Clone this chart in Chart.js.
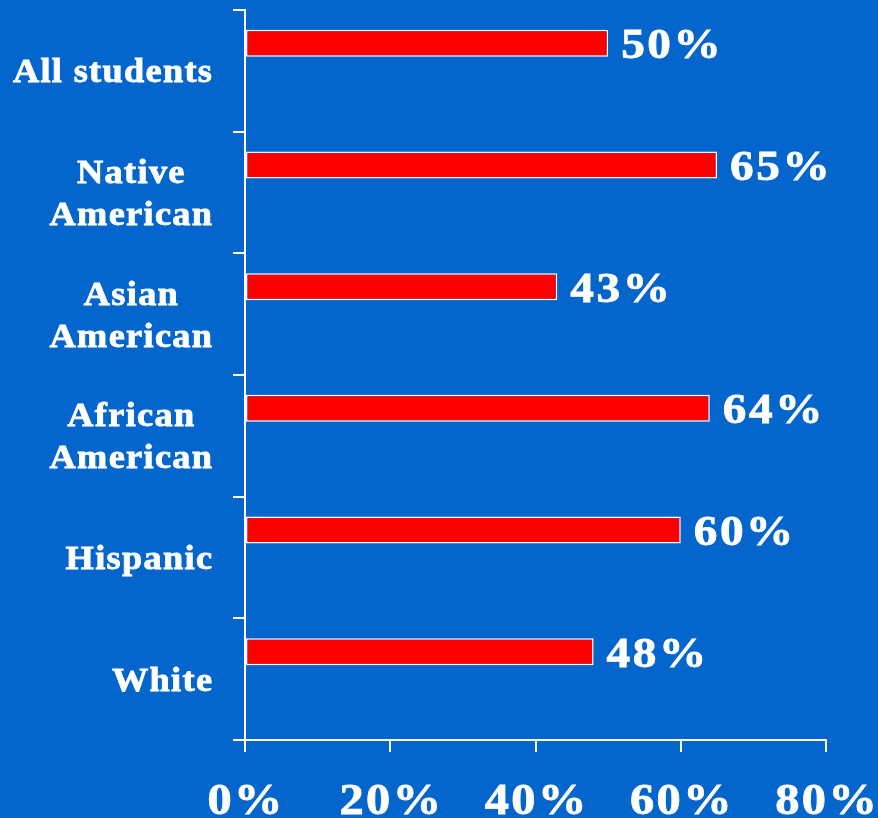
<!DOCTYPE html>
<html>
<head>
<meta charset="utf-8">
<script src="https://cdn.jsdelivr.net/npm/chart.js@4/dist/chart.umd.min.js"></script>
<style>
  html, body { margin: 0; padding: 0; background: #0466cc; }
  canvas { display: block; background: #0466cc; }
</style>
</head>
<body>
<canvas id="myChart" width="878" height="818"></canvas>
<script>
// category labels, one entry per line of text
var groups = [
  ["All students"],
  ["Native", "American"],
  ["Asian", "American"],
  ["African", "American"],
  ["Hispanic"],
  ["White"]
];
var shares = [50, 65, 43, 64, 60, 48];
var xMin = 0, xMax = 80, xStep = 20;

var serif = "'Liberation Serif', 'Times New Roman', serif";
var SX = 1.1; // the original lettering is a little wider than Times

function setFont(ctx, size, spacing) {
  ctx.letterSpacing = spacing + 'px';
  ctx.font = 'bold ' + size + 'px ' + serif;
  ctx.fillStyle = '#ffffff';
  ctx.strokeStyle = '#ffffff';
  ctx.lineWidth = 0.8;
  ctx.textAlign = 'left';
  ctx.textBaseline = 'alphabetic';
}

// ink width of the text after the stretch
function textW(ctx, txt, spacing) {
  return (ctx.measureText(txt).width - spacing) * SX;
}

function drawText(ctx, txt, x, y) {
  ctx.save();
  ctx.translate(x, y);
  ctx.scale(SX, 1);
  ctx.fillText(txt, 0, 0);
  ctx.strokeText(txt, 0, 0);
  ctx.restore();
}

// group names left of the axis, lines centred on each other
var groupLabels = {
  id: 'groupLabels',
  afterDraw: function(chart) {
    var ctx = chart.ctx;
    var yScale = chart.scales.y;
    var right = 212;
    var sp = 1.2;
    ctx.save();
    setFont(ctx, 33, sp);
    groups.forEach(function(lines, i) {
      var y = yScale.getPixelForTick(i);
      var widths = lines.map(function(l) { return textW(ctx, l, sp); });
      var maxW = Math.max.apply(null, widths);
      var cx = right - maxW / 2;
      var lh = 42;
      var y0 = y - (lines.length - 1) * lh / 2 + 11.5;
      lines.forEach(function(l, k) {
        drawText(ctx, l, cx - widths[k] / 2, y0 + k * lh);
      });
    });
    ctx.restore();
  }
};

// value labels at the end of each bar
var valueLabels = {
  id: 'valueLabels',
  afterDatasetsDraw: function(chart) {
    var ctx = chart.ctx;
    var meta = chart.getDatasetMeta(0);
    ctx.save();
    setFont(ctx, 43, 2.3);
    meta.data.forEach(function(bar, i) {
      drawText(ctx, shares[i] + '%', bar.x + 13, bar.y + 15);
    });
    ctx.restore();
  }
};

// x tick labels, placed on the library's tick positions
var xLabels = {
  id: 'xLabels',
  afterDraw: function(chart) {
    var ctx = chart.ctx;
    var xs = chart.scales.x;
    var sp = 2.2;
    ctx.save();
    setFont(ctx, 44, sp);
    xs.ticks.forEach(function(t, i) {
      var txt = t.value + '%';
      var w = textW(ctx, txt, sp);
      drawText(ctx, txt, xs.getPixelForTick(i) - w / 2, 814);
    });
    ctx.restore();
  }
};

function init() {
  var ctx = document.getElementById('myChart').getContext('2d');
  var chart = new Chart(ctx, {
    type: 'bar',
    data: {
      labels: groups,
      datasets: [{
        data: shares,
        backgroundColor: '#ff0000',
        borderColor: '#ffffff',
        borderWidth: 1.5,
        borderSkipped: false,
        categoryPercentage: 0.904,
        barPercentage: 0.49
      }, {
        // empty slot so the bars sit in the upper half of each band
        data: shares.map(function() { return null; }),
        categoryPercentage: 0.904,
        barPercentage: 0.49
      }]
    },
    options: {
      indexAxis: 'y',
      responsive: false,
      animation: false,
      layout: { padding: { top: 10, right: 52, left: 0, bottom: 0 } },
      plugins: {
        legend: { display: false },
        tooltip: { enabled: false }
      },
      scales: {
        x: {
          min: xMin,
          max: xMax,
          afterFit: function(s) { s.height = 78; },
          border: { color: '#ffffff', width: 2 },
          grid: { drawOnChartArea: false, color: '#ffffff', lineWidth: 2, tickLength: 12 },
          ticks: { stepSize: xStep, display: false }
        },
        y: {
          afterFit: function(s) { s.width = 245; },
          border: { color: '#ffffff', width: 2 },
          grid: { drawOnChartArea: false, color: '#ffffff', lineWidth: 2, tickLength: 12 },
          ticks: { display: false }
        }
      }
    },
    plugins: [groupLabels, valueLabels, xLabels]
  });
}

init();
</script>
</body>
</html>
